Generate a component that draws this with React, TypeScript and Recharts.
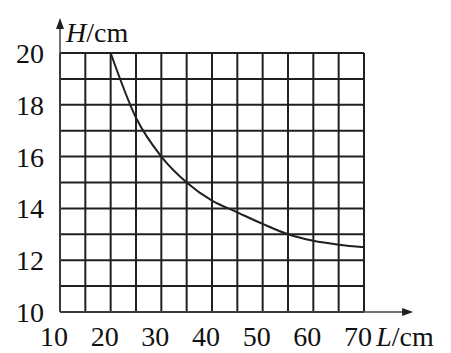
import {
  LineChart,
  Line,
  XAxis,
  YAxis,
  CartesianGrid,
  ReferenceLine,
} from "recharts";

// length L (cm) and height H (cm)
const lengths = [20, 25, 30, 35, 40, 45, 50, 55, 60, 65, 70];
const heights = [20, 17.5, 16, 15.0, 14.3, 13.85, 13.4, 13.0, 12.75, 12.6, 12.5];

const xTicks = [10, 15, 20, 25, 30, 35, 40, 45, 50, 55, 60, 65, 70];
const yTicks = [10, 11, 12, 13, 14, 15, 16, 17, 18, 19, 20];

const data = lengths.map((L, i) => ({ L, H: heights[i] }));

const INK = "#231f20";
const textStyle = {
  fontFamily: "'Liberation Serif', 'Times New Roman', serif",
  fontSize: 28,
};

function XTick({ x, y, payload }: any) {
  if (payload.value % 10 !== 0) return null;
  return (
    <text x={x - 6} y={y} dy={18} textAnchor="middle" style={textStyle} fill="#111">
      {payload.value}
    </text>
  );
}

function YTick({ x, y, payload }: any) {
  if (payload.value % 2 !== 0) return null;
  return (
    <text x={x} y={y} dy={10} textAnchor="end" style={textStyle} fill="#111">
      {payload.value}
    </text>
  );
}

function XArrow(props: any) {
  const { x1, y1, x2, y2 } = props;
  return (
    <g>
      <line x1={x1} y1={y1} x2={x2 - 4} y2={y2} stroke="#444" strokeWidth={1.5} />
      <polygon points={`${x2},${y2} ${x2 - 11},${y2 - 4} ${x2 - 11},${y2 + 4}`} fill={INK} />
      <text x={x2 - 37} y={y2 + 34} style={textStyle} fill="#111">
        <tspan fontStyle="italic">L</tspan>/cm
      </text>
    </g>
  );
}

function YArrow(props: any) {
  const { x1, y1, x2, y2 } = props;
  return (
    <g>
      <line x1={x1} y1={y1} x2={x2} y2={y2 + 4} stroke="#444" strokeWidth={1.5} />
      <polygon points={`${x2},${y2} ${x2 - 4},${y2 + 11} ${x2 + 4},${y2 + 11}`} fill={INK} />
      <text x={x2 + 6} y={y2 + 24} style={textStyle} fill="#111">
        <tspan fontStyle="italic">H</tspan>/cm
      </text>
    </g>
  );
}

export default function App() {
  return (
    <div style={{ position: "absolute", left: 0, top: 0, background: "#fff" }}>
      <LineChart
        width={451}
        height={353}
        data={data}
        margin={{ top: 53, right: 87, bottom: 0, left: 0 }}
      >
        <CartesianGrid stroke={INK} strokeWidth={2} />
        <XAxis
          dataKey="L"
          type="number"
          domain={[10, 70]}
          ticks={xTicks}
          interval={0}
          height={41}
          axisLine={false}
          tickLine={false}
          tickSize={0}
          tickMargin={16}
          tick={<XTick />}
        />
        <YAxis
          dataKey="H"
          type="number"
          domain={[10, 20]}
          ticks={yTicks}
          interval={0}
          width={60}
          axisLine={false}
          tickLine={false}
          tickSize={0}
          tickMargin={16}
          tick={<YTick />}
        />
        <ReferenceLine
          segment={[{ x: 10, y: 10 }, { x: 79.7, y: 10 }]}
          ifOverflow="visible"
          shape={<XArrow />}
        />
        <ReferenceLine
          segment={[{ x: 10, y: 10 }, { x: 10, y: 21.35 }]}
          ifOverflow="visible"
          shape={<YArrow />}
        />
        <Line
          type="monotone"
          dataKey="H"
          stroke={INK}
          strokeWidth={2}
          dot={false}
          isAnimationActive={false}
        />
      </LineChart>
    </div>
  );
}
